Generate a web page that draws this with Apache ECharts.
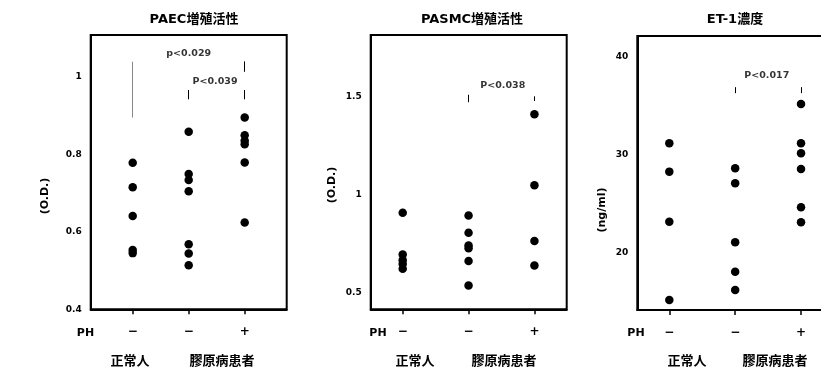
<!DOCTYPE html>
<html>
<head>
<meta charset="utf-8">
<script src="https://cdn.jsdelivr.net/npm/echarts@6/dist/echarts.min.js"></script>
<style>html,body{margin:0;padding:0;background:#fff}#c{width:821px;height:376px}</style>
</head>
<body>
<div id="c"></div>
<script>
// ---- data ----
const cats = [1, 2, 3];
const phLabels = ['−', '−', '+'];
const groupNames = ['正常人', '膠原病患者'];
const titles = ['PAEC増殖活性', 'PASMC増殖活性', 'ET-1濃度'];
const yNames = ['(O.D.)', '(O.D.)', '(ng/ml)'];

const paec = [
  [0.778, 0.715, 0.641, 0.553, 0.545],
  [0.858, 0.749, 0.734, 0.705, 0.568, 0.544, 0.514],
  [0.895, 0.849, 0.835, 0.826, 0.779, 0.624]
];
const pasmc = [
  [0.908, 0.695, 0.665, 0.646, 0.622],
  [0.894, 0.806, 0.741, 0.727, 0.661, 0.537],
  [1.410, 1.048, 0.763, 0.639]
];
const et1 = [
  [31.14, 28.24, 23.13, 15.12],
  [28.59, 27.06, 21.02, 18.02, 16.15],
  [35.16, 31.14, 30.12, 28.52, 24.60, 23.07]
];

const paecTicks = [0.4, 0.6, 0.8, 1];
const pasmcTicks = [0.5, 1, 1.5];
const et1Ticks = [20, 30, 40];

// significance annotations (data coordinates)
const paecSigText = [{ text: 'p<0.029', x: 2, y: 1.061 }, { text: 'P<0.039', x: 2.47, y: 0.987 }];
const paecSigLines = [
  { x: 1, y1: 1.039, y2: 0.895, gray: true },
  { x: 3, y1: 1.040, y2: 1.013 },
  { x: 2, y1: 0.966, y2: 0.942 },
  { x: 3, y1: 0.966, y2: 0.942 }
];
const pasmcSigText = [{ text: 'P<0.038', x: 2.52, y: 1.558 }];
const pasmcSigLines = [
  { x: 2, y1: 1.510, y2: 1.472 },
  { x: 3, y1: 1.502, y2: 1.478 }
];
const et1SigText = [{ text: 'P<0.017', x: 2.48, y: 38.03 }];
const et1SigLines = [
  { x: 2, y1: 36.87, y2: 36.26 },
  { x: 3, y1: 36.87, y2: 36.26 }
];

// ---- layout / style ----
const FONT = '"DejaVu Sans", "Noto Sans CJK JP", sans-serif';
const panels = [
  { vals: paec, ticks: paecTicks, sigT: paecSigText, sigL: paecSigLines,
    grid: { left: 90.7, top: 35, width: 196, height: 274.3 }, x: [0.25, 3.75], y: [0.4, 1.108] },
  { vals: pasmc, ticks: pasmcTicks, sigT: pasmcSigText, sigL: pasmcSigLines,
    grid: { left: 370.7, top: 35, width: 196, height: 274.3 }, x: [0.514, 3.49], y: [0.415, 1.815] },
  { vals: et1, ticks: et1Ticks, sigT: et1SigText, sigL: et1SigLines,
    grid: { left: 637.3, top: 36, width: 196, height: 274 }, x: [0.514, 3.49], y: [14.1, 42.1] }
];

const grids = [], xAxes = [], yAxes = [], series = [];
panels.forEach((p, i) => {
  grids.push(Object.assign({ show: true, borderColor: '#000', borderWidth: 2, backgroundColor: 'transparent',
    outerBoundsMode: 'none', containLabel: false }, p.grid));
  xAxes.push({
    type: 'value', gridIndex: i, min: p.x[0], max: p.x[1],
    axisLine: { show: true, lineStyle: { color: '#000', width: 2 } },
    axisTick: { show: true, customValues: cats, length: 5, lineStyle: { color: '#000', width: 1.5 } },
    axisLabel: { customValues: cats, formatter: v => phLabels[Math.round(v) - 1], margin: 17,
      color: '#000', fontSize: 12, fontWeight: 'bold', fontFamily: FONT },
    splitLine: { show: false }
  });
  yAxes.push({
    type: 'value', gridIndex: i, min: p.y[0], max: p.y[1],
    axisLine: { show: true, lineStyle: { color: '#000', width: 2 } },
    axisTick: { show: false },
    axisLabel: { customValues: p.ticks, margin: 9, color: '#000', fontSize: 9, fontWeight: 'bold', fontFamily: FONT },
    splitLine: { show: false }
  });
  const pts = [];
  p.vals.forEach((arr, gi) => arr.forEach(v => pts.push([cats[gi], v])));
  series.push({
    type: 'scatter', xAxisIndex: i, yAxisIndex: i, data: pts, symbolSize: 8.5,
    itemStyle: { color: '#000', opacity: 1 }, silent: true,
    markLine: {
      silent: true, symbol: 'none', animation: false,
      label: { show: false },
      data: p.sigL.map(l => [
        { coord: [l.x, l.y1], lineStyle: { color: l.gray ? '#888' : '#000', width: 1, type: 'solid' } },
        { coord: [l.x, l.y2] }
      ])
    }
  });
  series.push({
    type: 'scatter', xAxisIndex: i, yAxisIndex: i, symbolSize: 0, silent: true,
    data: p.sigT.map(t => ({ value: [t.x, t.y], name: t.text })),
    label: { show: true, position: 'inside', formatter: d => d.name, color: '#000',
      fontSize: 9.5, fontWeight: 'bold', fontFamily: FONT }
  });
});

function txt(x, y, text, size, rot) {
  return { type: 'text', x: x, y: y, rotation: rot || 0, silent: true,
    style: { text: text, fill: '#000', font: 'bold ' + size + 'px ' + FONT, align: 'center', verticalAlign: 'middle' } };
}
const graphics = [
  txt(194, 20, titles[0], 13), txt(472, 20, titles[1], 13), txt(735, 20, titles[2], 13),
  txt(45, 196, yNames[0], 11, Math.PI / 2), txt(332, 185, yNames[1], 11, Math.PI / 2), txt(602, 210, yNames[2], 11, Math.PI / 2),
  txt(85.5, 333, 'PH', 11), txt(378, 333, 'PH', 11), txt(636, 333, 'PH', 11),
  txt(130, 362, groupNames[0], 13), txt(222, 362, groupNames[1], 13),
  txt(415, 362, groupNames[0], 13), txt(504, 362, groupNames[1], 13),
  txt(687, 362, groupNames[0], 13), txt(775, 362, groupNames[1], 13)
];

const chart = echarts.init(document.getElementById('c'), null, { renderer: 'canvas' });
chart.setOption({
  animation: false,
  backgroundColor: '#fff',
  grid: grids, xAxis: xAxes, yAxis: yAxes, series: series,
  graphic: graphics
});
</script>
</body>
</html>
